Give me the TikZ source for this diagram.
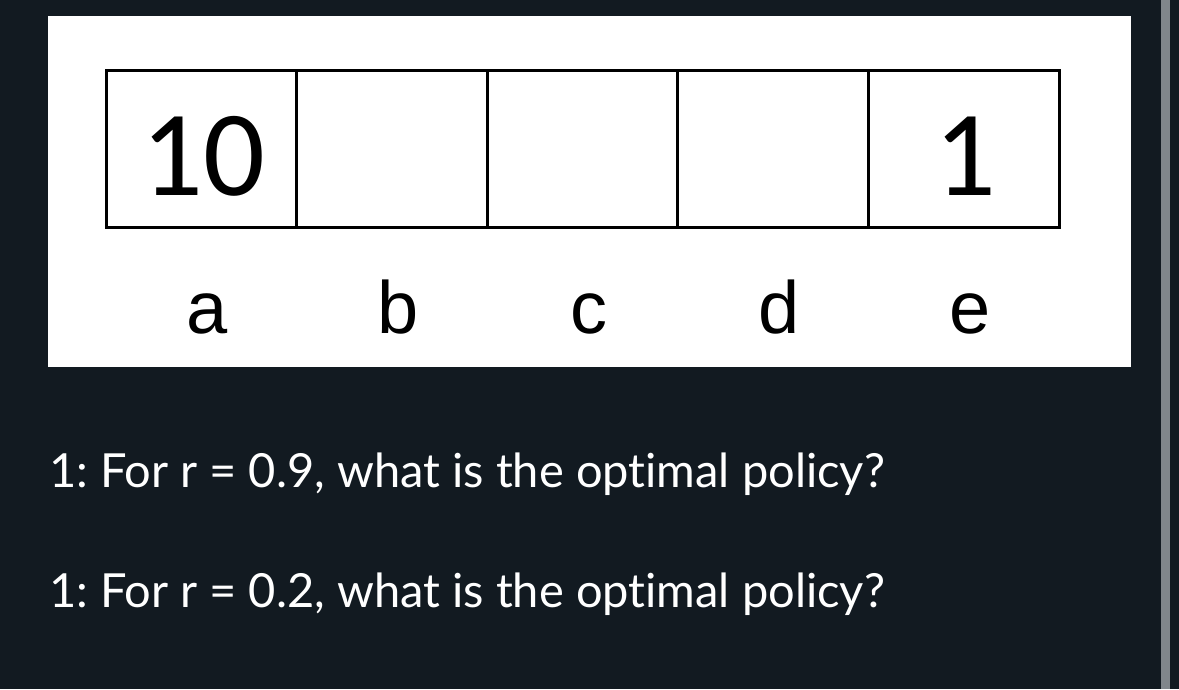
\documentclass[tikz,border=0pt]{standalone}
\usepackage{fontspec}
\setmainfont[Ligatures=NoCommon]{Lato}
\newfontfamily\cellfont{Carlito}
\newfontfamily\lblfont{Liberation Sans}
\usetikzlibrary{positioning}
\definecolor{pagebg}{HTML}{121A21}
\definecolor{barcol}{HTML}{80868B}
\frenchspacing

\begin{document}
\begin{tikzpicture}[x=1pt,y=-1pt,node distance=0pt,
    cell/.style={draw,line width=3pt,minimum width=190.6pt,minimum height=157pt,inner sep=0pt,outer sep=0pt},
    digit/.style={anchor=base,inner sep=0pt,font=\cellfont\fontsize{122}{122}\selectfont},
    lbl/.style={anchor=base,inner sep=0pt,font=\lblfont\fontsize{74}{74}\selectfont},
    question/.style={anchor=base west,inner sep=0pt,text=white,font=\fontsize{47}{56}\selectfont}]
    \useasboundingbox (0,0) rectangle (1179,689);
    \fill[pagebg] (0,0) rectangle (1179,689);
    \fill[barcol] (1161,0) rectangle (1170,689);
    \fill[white] (48,16) rectangle (1131,367);

    % the five states
    \node[cell] (ca) at (201.3,148.5) {};
    \node[cell] (cb) [right=of ca] {};
    \node[cell] (cc) [right=of cb] {};
    \node[cell] (cd) [right=of cc] {};
    \node[cell] (ce) [right=of cd] {};

    % rewards
    \node[digit] (ra) at ([xshift=2pt,yshift=-46.5pt]ca.center) {10};
    \node[digit] (re) at ([xshift=2pt,yshift=-46.5pt]ce.center) {1};

    % state names
    \node[lbl] (la) at ([xshift=6pt,yshift=-106pt]ca.south) {a};
    \node[lbl] (lb) at ([xshift=6pt,yshift=-106pt]cb.south) {b};
    \node[lbl] (lc) at ([xshift=6pt,yshift=-106pt]cc.south) {c};
    \node[lbl] (ld) at ([xshift=6pt,yshift=-106pt]cd.south) {d};
    \node[lbl] (le) at ([xshift=6pt,yshift=-106pt]ce.south) {e};

    \node[question] (q1) at (49,487) {1: For r = 0.9, what is the optimal policy?};
    \node[question] (q2) at (49,607) {1: For r = 0.2, what is the optimal policy?};
\end{tikzpicture}
\end{document}
